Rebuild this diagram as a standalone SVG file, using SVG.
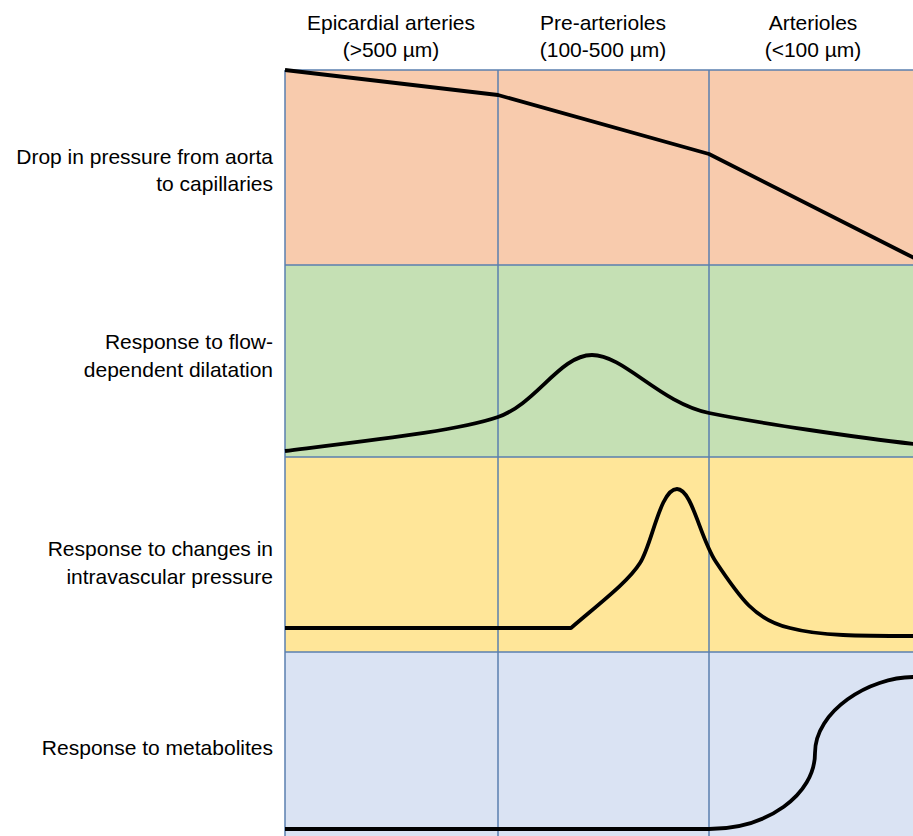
<svg xmlns="http://www.w3.org/2000/svg" width="913" height="836" viewBox="0 0 913 836">
  <style>
    text { font-family: "Liberation Sans", Arial, sans-serif; font-size: 21px; fill: #000; }
    .hdr { text-anchor: middle; }
    .lbl { text-anchor: end; }
    .grid { stroke: #5A7FAF; stroke-width: 1.5; fill: none; }
    .curve { stroke: #000; stroke-width: 3.8; fill: none; stroke-linejoin: round; }
  </style>
  <rect width="913" height="836" fill="#FFFFFF"/>
  <g id="bands">
    <rect x="285" y="70" width="630" height="195" fill="#F8CBAD"/>
    <rect x="285" y="265" width="630" height="192" fill="#C5E0B4"/>
    <rect x="285" y="457" width="630" height="195" fill="#FFE699"/>
    <rect x="285" y="652" width="630" height="190" fill="#DAE3F3"/>
  </g>
  <g id="grid" class="grid">
    <line x1="285" y1="70" x2="285" y2="836"/>
    <line x1="498" y1="70" x2="498" y2="836"/>
    <line x1="709" y1="70" x2="709" y2="836"/>
    <line x1="285" y1="70" x2="913" y2="70"/>
    <line x1="285" y1="265" x2="913" y2="265"/>
    <line x1="285" y1="457" x2="913" y2="457"/>
    <line x1="285" y1="652" x2="913" y2="652"/>
  </g>
  <g id="headers">
    <g id="col-epicardial">
      <text class="hdr" x="391" y="30">Epicardial arteries</text>
      <text class="hdr" x="391" y="57">(&gt;500 µm)</text>
    </g>
    <g id="col-prearterioles">
      <text class="hdr" x="603" y="30">Pre-arterioles</text>
      <text class="hdr" x="603" y="57">(100-500 µm)</text>
    </g>
    <g id="col-arterioles">
      <text class="hdr" x="813" y="30">Arterioles</text>
      <text class="hdr" x="813" y="57">(&lt;100 µm)</text>
    </g>
  </g>
  <g id="row-pressure">
    <text class="lbl" x="273" y="164">Drop in pressure from aorta</text>
    <text class="lbl" x="273" y="191">to capillaries</text>
  </g>
  <g id="row-flow">
    <text class="lbl" x="273" y="349">Response to flow-</text>
    <text class="lbl" x="273" y="377">dependent dilatation</text>
  </g>
  <g id="row-intravascular">
    <text class="lbl" x="273" y="556">Response to changes in</text>
    <text class="lbl" x="273" y="584">intravascular pressure</text>
  </g>
  <g id="row-metabolites">
    <text class="lbl" x="273" y="755">Response to metabolites</text>
  </g>
  <g id="connectors">
    <path class="curve" d="M285,70 L498,95 L709,154 L914,258"/>
    <path class="curve" d="M285,451 C390,438 460,430 498,417 S560,355 592,355 S660,403 709,413 S860,438 914,444"/>
    <path class="curve" d="M285,628 L571,628 C600,603 628,582 640,563 C652,545 660,489 677,489 C692,489 700,538 716,562 C740,598 755,620 790,628 C820,636 860,636 914,636"/>
    <path class="curve" d="M285,829 L709,829 C767,829 815,795 815,753 C815,711 869,677 914,677"/>
  </g>
</svg>
